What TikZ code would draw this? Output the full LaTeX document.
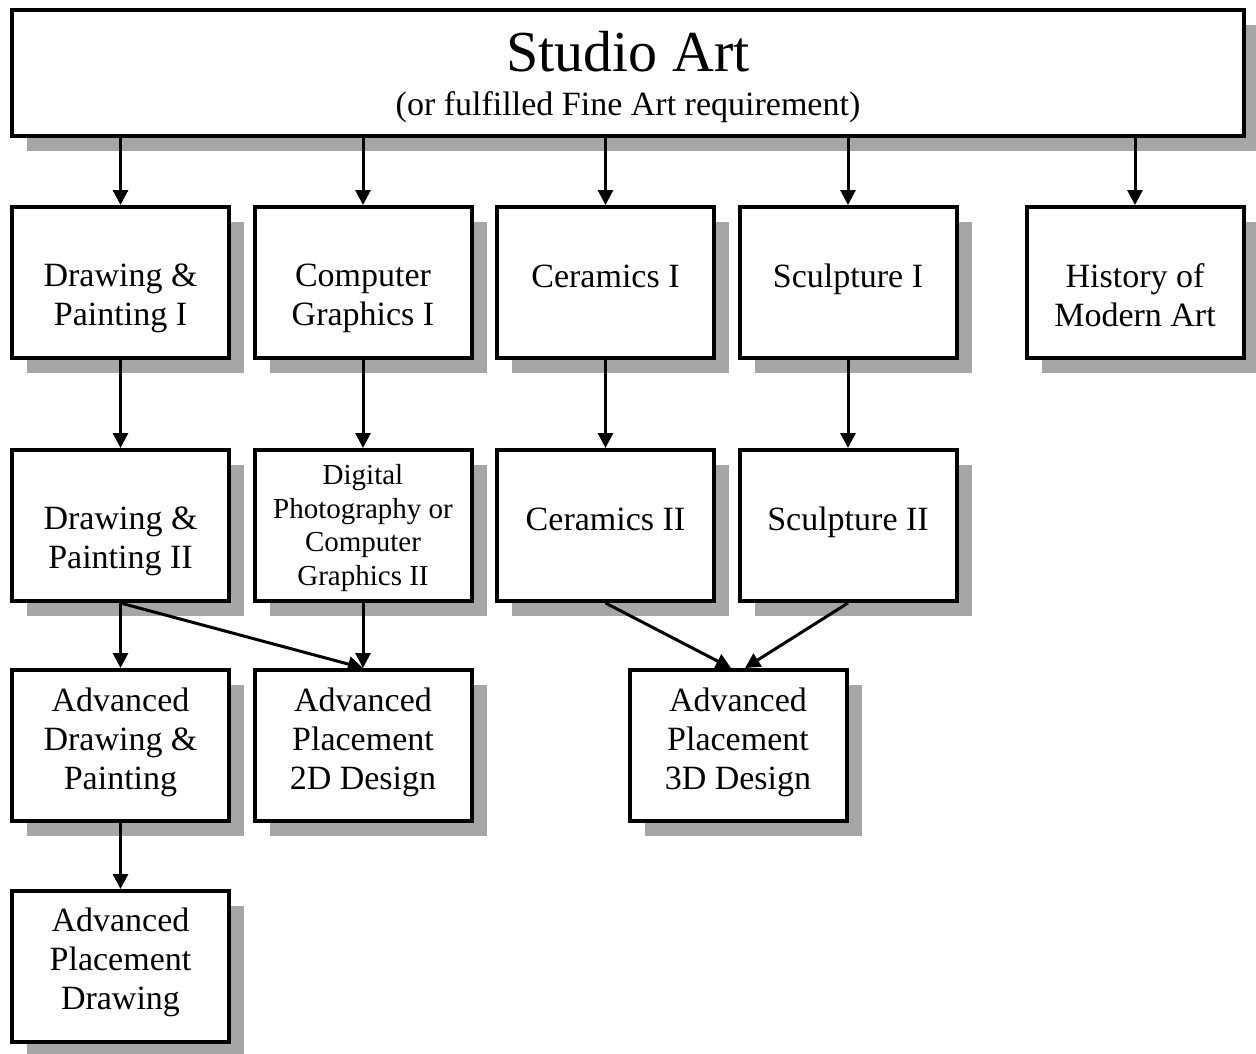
\documentclass[tikz,border=0pt]{standalone}
\usepackage{fontspec}
\setmainfont{Liberation Serif}
\usetikzlibrary{arrows.meta,shadows,calc}
\begin{document}
\begin{tikzpicture}[x=1pt,y=-1pt,
  box/.style={draw, line width=4pt, fill=white, inner sep=0pt,
    minimum width=217pt, minimum height=151pt,
    drop shadow={shadow xshift=15pt, shadow yshift=-15pt, fill=gray!70, opacity=1}},
  txt/.style={align=center, inner sep=0pt, font=\fontsize{34}{39}\selectfont},
  smalltxt/.style={align=center, inner sep=0pt, font=\fontsize{29}{33.5}\selectfont},
  arr/.style={line width=3pt, -{Triangle[length=15pt,width=15pt]}}
]
\useasboundingbox (0,0) rectangle (1256,1053);
% top box
\node[box, minimum width=1232pt, minimum height=126pt] (top) at (628,73) {};
\node[inner sep=0pt, font=\fontsize{58}{62}\selectfont] (ttitle) at (628,52) {Studio Art};
\node[txt] (tsub) at (628,107) {(or fulfilled Fine Art requirement)};
% row 1
\node[box] (dp1) at (120.5,282.5) {};
\node[box] (cg1) at (363,282.5) {};
\node[box] (ce1) at (605.5,282.5) {};
\node[box] (sc1) at (848,282.5) {};
\node[box] (hma) at (1135,282.5) {};
\node[txt] (tdp1) at (120.5,298) {Drawing \&\\Painting I};
\node[txt] (tcg1) at (363,298) {Computer\\Graphics I};
\node[txt] (tce1) at (605.5,276) {Ceramics I};
\node[txt] (tsc1) at (848,279) {Sculpture I};
\node[txt] (thma) at (1135,295) {History of\\Modern Art};
% row 2
\node[box] (dp2) at (120.5,525.5) {};
\node[box] (cg2) at (363,525.5) {};
\node[box] (ce2) at (605.5,525.5) {};
\node[box] (sc2) at (848,525.5) {};
\node[txt] (tdp2) at (120.5,541) {Drawing \&\\Painting II};
\node[smalltxt] (tcg2) at (363,528) {Digital\\Photography or\\Computer\\Graphics II};
\node[txt] (tce2) at (605.5,519) {Ceramics II};
\node[txt] (tsc2) at (848,522) {Sculpture II};
% row 3
\node[box] (adp) at (120.5,745.5) {};
\node[box] (ap2) at (363,745.5) {};
\node[box] (ap3) at (738,745.5) {};
\node[txt] (tadp) at (120.5,742) {Advanced\\Drawing \&\\Painting};
\node[txt] (tap2) at (363,742) {Advanced\\Placement\\2D Design};
\node[txt] (tap3) at (738,742) {Advanced\\Placement\\3D Design};
% row 4
\node[box] (apd) at (120.5,966.5) {};
\node[txt] (tapd) at (120.5,962) {Advanced\\Placement\\Drawing};
% connectors
\foreach \n in {dp1,cg1,ce1,sc1,hma}
  \draw[arr] (top.south -| \n.north) -- (\n.north);
\draw[arr] (dp1) -- (dp2);
\draw[arr] (cg1) -- (cg2);
\draw[arr] (ce1) -- (ce2);
\draw[arr] (sc1) -- (sc2);
\draw[arr] (dp2) -- (adp);
\draw[arr] (dp2.south) -- (ap2.north);
\draw[arr] (cg2) -- (ap2);
\draw[arr] (ce2.south) -- ($(ap3.north)+(-7,0)$);
\draw[arr] (sc2.south) -- ($(ap3.north)+(7,0)$);
\draw[arr] (adp) -- (apd);
\end{tikzpicture}
\end{document}
